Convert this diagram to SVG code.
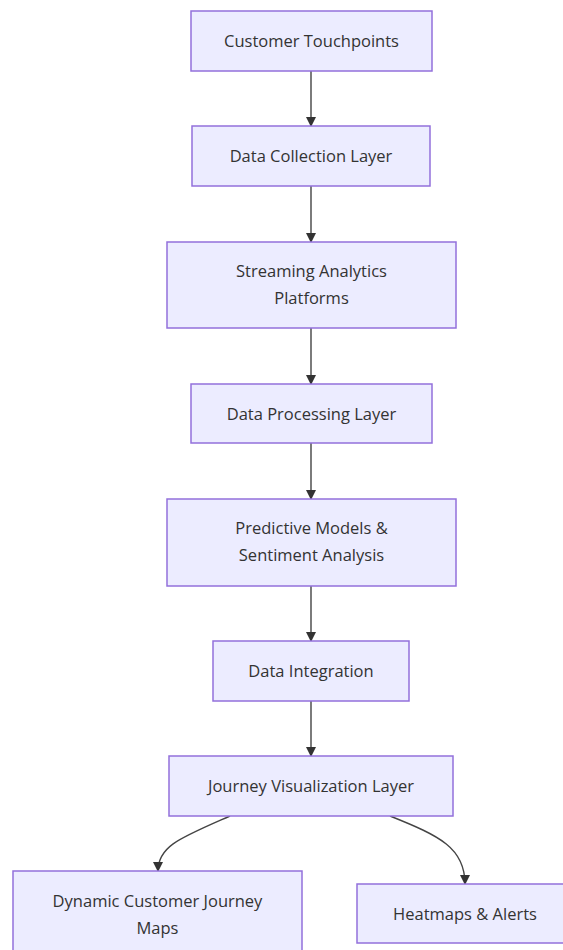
<svg xmlns="http://www.w3.org/2000/svg" width="563" height="950" viewBox="0 0 563 950">
<style>
.node rect{fill:#ECECFF;stroke:#9370DB;stroke-width:1.5}
.node text{font-family:"Open Sans","Liberation Sans",sans-serif;font-size:16.5px;fill:#333;text-anchor:middle}
.edge{fill:none;stroke:#444;stroke-width:1.4}
</style>
<defs>
<marker id="ah" markerWidth="10" markerHeight="10" refX="9" refY="5" orient="auto" markerUnits="userSpaceOnUse">
<path d="M0,0 L10,5 L0,10 z" fill="#333"/>
</marker>
</defs>
<rect width="563" height="950" fill="#fff"/>
<g id="connectors">
<path class="edge" d="M311,71 L311,126" marker-end="url(#ah)"/>
<path class="edge" d="M311,186 L311,242" marker-end="url(#ah)"/>
<path class="edge" d="M311,328 L311,384" marker-end="url(#ah)"/>
<path class="edge" d="M311,443 L311,499" marker-end="url(#ah)"/>
<path class="edge" d="M311,586 L311,641" marker-end="url(#ah)"/>
<path class="edge" d="M311,701 L311,756" marker-end="url(#ah)"/>
<path class="edge" d="M230,816 C180,838 158,846 158,871" marker-end="url(#ah)"/>
<path class="edge" d="M390,816 C440,836 465,848 465,884" marker-end="url(#ah)"/>
</g>
<g id="n1" class="node"><rect x="191" y="11" width="241" height="60"/><text x="311.5" y="47">Customer Touchpoints</text></g>
<g id="n2" class="node"><rect x="192" y="126" width="238" height="60"/><text x="311" y="162">Data Collection Layer</text></g>
<g id="n3" class="node"><rect x="167" y="242" width="289" height="86"/><text x="311.5" y="277">Streaming Analytics</text><text x="311.5" y="304">Platforms</text></g>
<g id="n4" class="node"><rect x="191" y="384" width="241" height="59"/><text x="311.5" y="420">Data Processing Layer</text></g>
<g id="n5" class="node"><rect x="167" y="499" width="289" height="87"/><text x="311.5" y="534">Predictive Models &amp;</text><text x="311.5" y="561">Sentiment Analysis</text></g>
<g id="n6" class="node"><rect x="213" y="641" width="196" height="60"/><text x="311" y="677">Data Integration</text></g>
<g id="n7" class="node"><rect x="169" y="756" width="284" height="60"/><text x="311" y="792">Journey Visualization Layer</text></g>
<g id="n8" class="node"><rect x="13" y="871" width="289" height="86"/><text x="157.5" y="907">Dynamic Customer Journey</text><text x="157.5" y="934">Maps</text></g>
<g id="n9" class="node"><rect x="357" y="884" width="216" height="59"/><text x="465" y="920">Heatmaps &amp; Alerts</text></g>
</svg>
